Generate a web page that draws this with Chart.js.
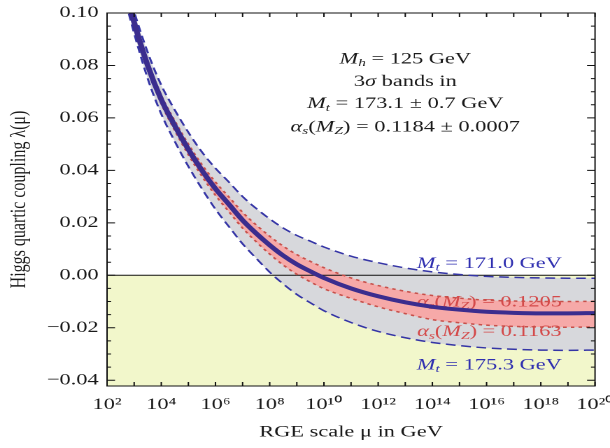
<!DOCTYPE html>
<html>
<head>
<meta charset="utf-8">
<script src="https://cdn.jsdelivr.net/npm/chart.js@4.4.1/dist/chart.umd.min.js"></script>
<style>
  html, body { margin: 0; padding: 0; background: #fff; overflow: hidden; }
  /* the figure is drawn narrow and stretched sideways, like the printed plot */
  #wrap { width: 436px; height: 448px; transform: scaleX(1.3991); transform-origin: 0 0; }
</style>
</head>
<body>
<div id="wrap"><canvas id="chart" width="436" height="448"></canvas></div>
<script>
"use strict"

// log10 of the RGE scale mu in GeV
const logMu = [2.6, 2.9, 3.5, 4, 4.5, 5, 5.5, 6, 6.5, 7, 7.5, 8, 8.5, 9, 9.5, 10, 11, 12, 13, 14, 15, 16, 17, 18, 19, 20];

// lambda(mu) for the central values and the 3 sigma edges
const lambdaCentral = [0.112, 0.100, 0.080, 0.067, 0.057, 0.048, 0.040, 0.033, 0.027, 0.021, 0.016, 0.0115, 0.0075, 0.0042, 0.0015, -0.001, -0.005, -0.008, -0.0103, -0.012, -0.0131, -0.0139, -0.0143, -0.0145, -0.0145, -0.0144];
const lambdaMt171 = [0.116, 0.104, 0.085, 0.0725, 0.063, 0.0545, 0.047, 0.0408, 0.0355, 0.030, 0.0255, 0.0215, 0.018, 0.0152, 0.013, 0.0108, 0.0073, 0.0048, 0.0028, 0.0013, 0.0003, -0.0004, -0.0008, -0.0010, -0.0011, -0.0011];
const lambdaMt175 = [0.108, 0.096, 0.075, 0.0615, 0.051, 0.0415, 0.033, 0.0252, 0.0185, 0.012, 0.0065, 0.0012, -0.0033, -0.0073, -0.0105, -0.0135, -0.0180, -0.0214, -0.0238, -0.0256, -0.0268, -0.0277, -0.0282, -0.0285, -0.0286, -0.0285];
const lambdaAs1205 = [0.113, 0.101, 0.0812, 0.0685, 0.0588, 0.050, 0.0422, 0.0355, 0.0298, 0.024, 0.0192, 0.0149, 0.0111, 0.0079, 0.0053, 0.0029, -0.001, -0.0039, -0.0061, -0.0077, -0.0087, -0.0095, -0.0098, -0.0100, -0.0100, -0.0099];
const lambdaAs1163 = [0.111, 0.099, 0.0788, 0.0655, 0.0552, 0.046, 0.0378, 0.0305, 0.0242, 0.018, 0.0128, 0.0081, 0.0039, 0.0004, -0.0025, -0.0051, -0.0088, -0.012, -0.0146, -0.0169, -0.0181, -0.019, -0.0195, -0.0197, -0.0198, -0.0197];

// axis ticks
const xTickExp = [2, 4, 6, 8, 10, 12, 14, 16, 18, 20];
const xTickLabels = ["10²", "10⁴", "10⁶", "10⁸", "10¹⁰", "10¹²", "10¹⁴", "10¹⁶", "10¹⁸", "10²⁰"];
const yTickVals = [-0.04, -0.02, 0, 0.02, 0.04, 0.06, 0.08, 0.10];
const yTickLabels = ["−0.04", "−0.02", "0.00", "0.02", "0.04", "0.06", "0.08", "0.10"];

const serif = "Liberation Serif";
const ink = "#1a1a1a";
const blueInk = "#2f2fb0";
const redInk = "#d44a4a";

// text blocks: [text, style] where style n = normal, i = italic, s = subscript
const notes = [
    { x: 13, y: 0.0824, color: ink, parts: [["M", "i"], ["h", "s"], [" = 125 GeV", "n"]] },
    { x: 13, y: 0.0737, color: ink, parts: [["3", "n"], ["σ", "i"], [" bands in", "n"]] },
    { x: 13, y: 0.0653, color: ink, parts: [["M", "i"], ["t", "s"], [" = 173.1 ± 0.7 GeV", "n"]] },
    { x: 13, y: 0.0565, color: ink, parts: [["α", "i"], ["s", "s"], ["(", "n"], ["M", "i"], ["Z", "s"], [") = 0.1184 ± 0.0007", "n"]] },
    { x: 16.1, y: 0.0044, color: blueInk, parts: [["M", "i"], ["t", "s"], [" = 171.0 GeV", "n"]] },
    { x: 16.1, y: -0.0102, color: redInk, parts: [["α", "i"], ["s", "s"], ["(", "n"], ["M", "i"], ["Z", "s"], [") = 0.1205", "n"]] },
    { x: 16.1, y: -0.0216, color: redInk, parts: [["α", "i"], ["s", "s"], ["(", "n"], ["M", "i"], ["Z", "s"], [") = 0.1163", "n"]] },
    { x: 16.1, y: -0.0343, color: blueInk, parts: [["M", "i"], ["t", "s"], [" = 175.3 GeV", "n"]] },
];

function points(values) {
    return logMu.map((x, i) => ({ x: x, y: values[i] }));
}

function drawRich(ctx, parts, cx, cy, color) {
    const fonts = {
        n: `16px "${serif}"`,
        i: `italic 16px "${serif}"`,
        s: `italic 11px "${serif}"`,
    };
    let width = 0;
    parts.forEach(p => { ctx.font = fonts[p[1]]; width += ctx.measureText(p[0]).width; });
    let x = cx - width / 2;
    ctx.fillStyle = color;
    ctx.textAlign = "left";
    ctx.textBaseline = "middle";
    parts.forEach(p => {
        ctx.font = fonts[p[1]];
        ctx.fillText(p[0], x, cy + (p[1] === "s" ? 4 : 0));
        x += ctx.measureText(p[0]).width;
    });
}

const notesPlugin = {
    id: "notes",
    beforeDatasetsDraw(chart) {
        const { ctx, scales } = chart;
        ctx.save();
        notes.forEach(n => {
            drawRich(ctx, n.parts, scales.x.getPixelForValue(n.x), scales.y.getPixelForValue(n.y), n.color);
        });
        ctx.restore();
    }
};

// frame with inward ticks on all four sides
const framePlugin = {
    id: "frame",
    afterDatasetsDraw(chart) {
        const { ctx, chartArea: a, scales } = chart;
        ctx.save();
        ctx.strokeStyle = "#111";
        ctx.lineWidth = 1;
        ctx.strokeRect(a.left, a.top, a.right - a.left, a.bottom - a.top);
        ctx.beginPath();
        for (let e = 2; e <= 20; e++) {
            const px = scales.x.getPixelForValue(e);
            ctx.moveTo(px, a.bottom); ctx.lineTo(px, a.bottom - 4);
            ctx.moveTo(px, a.top); ctx.lineTo(px, a.top + 4);
        }
        for (let k = -8; k <= 20; k++) {
            const py = scales.y.getPixelForValue(k * 0.005);
            const len = k % 4 === 0 ? 5.7 : 2.9;
            ctx.moveTo(a.left, py); ctx.lineTo(a.left + len, py);
            ctx.moveTo(a.right, py); ctx.lineTo(a.right - len, py);
        }
        ctx.stroke();
        ctx.restore();
    }
};

const data = {
    datasets: [
        {
            label: "central",
            data: points(lambdaCentral),
            borderColor: "#3b2d8e",
            borderWidth: 4,
            fill: false,
            clip: 0,
        },
        {
            label: "alpha_s = 0.1205",
            data: points(lambdaAs1205),
            borderColor: "#c8504a",
            borderWidth: 1.5,
            borderDash: [2.5, 3],
            backgroundColor: "#f6a9a8",
            fill: "+1",
            clip: 0,
        },
        {
            label: "alpha_s = 0.1163",
            data: points(lambdaAs1163),
            borderColor: "#c8504a",
            borderWidth: 1.5,
            borderDash: [2.5, 3],
            fill: false,
            clip: 0,
        },
        {
            label: "Mt = 171.0",
            data: points(lambdaMt171),
            borderColor: "#3535a6",
            borderWidth: 1.5,
            borderDash: [7, 4],
            backgroundColor: "#d7d8dc",
            fill: "+1",
            clip: 0,
        },
        {
            label: "Mt = 175.3",
            data: points(lambdaMt175),
            borderColor: "#3535a6",
            borderWidth: 1.5,
            borderDash: [7, 4],
            fill: false,
            clip: 0,
        },
        {
            label: "zero",
            data: [{ x: 2, y: 0 }, { x: 20, y: 0 }],
            borderColor: "#111",
            borderWidth: 1,
            backgroundColor: "#f2f7cb",
            fill: "start",
            clip: 0,
        },
    ]
};

const config = {
    type: "line",
    data: data,
    options: {
        responsive: false,
        animation: false,
        devicePixelRatio: 2,
        layout: { padding: { top: 13, right: 10.7, bottom: 0, left: 0 } },
        elements: {
            point: { radius: 0 },
            line: { cubicInterpolationMode: "monotone" },
        },
        plugins: {
            legend: { display: false },
            tooltip: { enabled: false },
            filler: { drawTime: "beforeDatasetsDraw" },
        },
        scales: {
            x: {
                type: "linear",
                min: 2,
                max: 20,
                grid: { display: false, drawTicks: false },
                border: { display: false },
                afterBuildTicks: s => { s.ticks = xTickExp.map(v => ({ value: v })); },
                afterFit: s => { s.height = 62; s.paddingLeft = 0; s.paddingRight = 0; },
                ticks: {
                    autoSkip: false,
                    maxRotation: 0,
                    padding: 9,
                    color: ink,
                    font: { family: serif, size: 16 },
                    callback: (v, i) => xTickLabels[i],
                },
                title: {
                    display: true,
                    text: "RGE scale μ in GeV",
                    color: ink,
                    font: { family: serif, size: 16 },
                    padding: { top: 0, bottom: 6 },
                },
            },
            y: {
                min: -0.0422,
                max: 0.10,
                grid: { display: false, drawTicks: false },
                border: { display: false },
                afterBuildTicks: s => { s.ticks = yTickVals.map(v => ({ value: v })); },
                afterFit: s => { s.width = 76.5; s.paddingTop = 0; s.paddingBottom = 0; },
                ticks: {
                    padding: 6,
                    color: ink,
                    font: { family: serif, size: 16 },
                    callback: (v, i) => yTickLabels[i],
                },
                title: {
                    display: true,
                    text: "Higgs quartic coupling λ(μ)",
                    color: ink,
                    font: { family: serif, size: 16 },
                    padding: { top: 4, bottom: 0 },
                },
            },
        },
    },
    plugins: [notesPlugin, framePlugin],
};

const higgsChart = new Chart(document.getElementById("chart"), config);
</script>
</body>
</html>
